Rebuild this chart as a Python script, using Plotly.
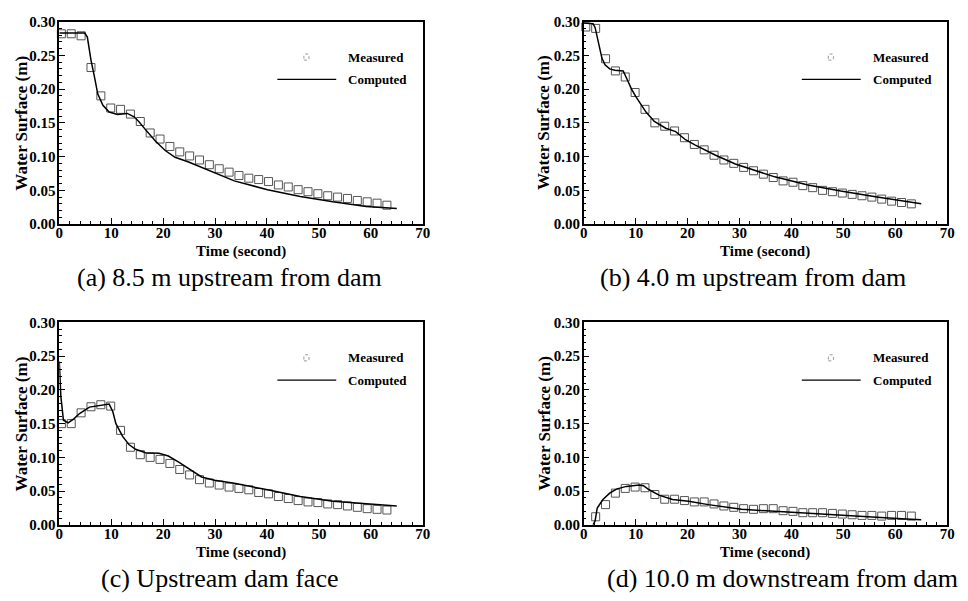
import plotly.graph_objects as go

# ---------------- data ----------------
# measurement sampling times (s), shared by the four gauges
MEAS_T = [0.4, 2.3, 4.2, 6.1, 8.0, 9.9, 11.8, 13.7, 15.6, 17.5, 19.4, 21.3,
          23.2, 25.1, 27.0, 28.9, 30.8, 32.7, 34.6, 36.5, 38.4, 40.3, 42.2,
          44.1, 46.0, 47.9, 49.8, 51.7, 53.6, 55.5, 57.4, 59.3, 61.2, 63.1]

# (a) 8.5 m upstream from dam
A_MEAS = [0.282, 0.282, 0.279, 0.232, 0.190, 0.172, 0.170, 0.163, 0.152, 0.135,
          0.126, 0.115, 0.107, 0.101, 0.095, 0.088, 0.082, 0.077, 0.072, 0.068,
          0.066, 0.063, 0.058, 0.055, 0.051, 0.048, 0.045, 0.042, 0.040, 0.038,
          0.035, 0.033, 0.031, 0.028]
A_COMP_T = [0, 4.9, 5.4, 6.1, 6.8, 7.4, 8.4, 9.6, 11.2, 12.4, 13.1, 14.4, 15.3,
            16.6, 18.5, 20.4, 22.3, 24.9, 28.7, 33.7, 40.1, 46.4, 52.7, 59.1, 65.0]
A_COMP = [0.283, 0.283, 0.277, 0.243, 0.217, 0.193, 0.176, 0.166, 0.1625, 0.163,
          0.164, 0.159, 0.152, 0.140, 0.123, 0.109, 0.099, 0.092, 0.080, 0.064,
          0.051, 0.041, 0.033, 0.026, 0.023]

# (b) 4.0 m upstream from dam
B_MEAS = [0.292, 0.290, 0.245, 0.227, 0.218, 0.195, 0.170, 0.150, 0.145, 0.138,
          0.128, 0.118, 0.110, 0.102, 0.095, 0.090, 0.084, 0.079, 0.074, 0.069,
          0.064, 0.062, 0.057, 0.054, 0.050, 0.048, 0.046, 0.044, 0.042, 0.040,
          0.037, 0.034, 0.032, 0.030]
B_COMP_T = [0, 1.8, 2.2, 2.8, 3.1, 3.5, 4.1, 5.0, 6.0, 7.6, 8.5, 9.2, 10.1, 11.0,
            12.0, 13.6, 15.8, 17.7, 19.6, 21.5, 23.5, 25.4, 29.2, 33.0, 36.8,
            43.2, 49.5, 55.9, 62.2, 65.0]
B_COMP = [0.298, 0.297, 0.291, 0.272, 0.258, 0.246, 0.236, 0.230, 0.228, 0.227,
          0.212, 0.200, 0.188, 0.177, 0.166, 0.152, 0.142, 0.137, 0.125, 0.117,
          0.109, 0.102, 0.089, 0.080, 0.070, 0.058, 0.049, 0.041, 0.033, 0.030]

# (c) upstream dam face
C_MEAS = [0.150, 0.150, 0.166, 0.175, 0.178, 0.176, 0.140, 0.115, 0.104, 0.100,
          0.097, 0.091, 0.082, 0.074, 0.067, 0.062, 0.059, 0.056, 0.054, 0.052,
          0.048, 0.046, 0.042, 0.039, 0.036, 0.034, 0.033, 0.031, 0.030, 0.028,
          0.026, 0.024, 0.023, 0.022]
C_COMP_T = [0, 0.3, 0.8, 1.7, 2.8, 3.9, 5.8, 8.4, 9.6, 10.3, 10.9, 12.2, 13.4,
            14.7, 16.6, 19.2, 21.0, 23.0, 24.9, 27.4, 29.9, 33.7, 40.1, 46.4,
            52.7, 59.1, 65.0]
C_COMP = [0.242, 0.190, 0.155, 0.151, 0.157, 0.165, 0.1745, 0.178, 0.179, 0.168,
          0.150, 0.131, 0.119, 0.112, 0.107, 0.106, 0.102, 0.093, 0.083, 0.071,
          0.066, 0.0615, 0.052, 0.042, 0.035, 0.031, 0.028]

# (d) 10.0 m downstream from dam (no water before the wave arrives)
D_MEAS = [None, 0.012, 0.030, 0.047, 0.054, 0.056, 0.055, 0.045, 0.038, 0.038,
          0.036, 0.034, 0.034, 0.031, 0.028, 0.026, 0.024, 0.023, 0.024, 0.024,
          0.021, 0.020, 0.018, 0.018, 0.018, 0.017, 0.016, 0.015, 0.014, 0.014,
          0.013, 0.014, 0.014, 0.013]
D_COMP_T = [1.8, 2.2, 2.6, 3.7, 5.0, 6.3, 8.2, 10.7, 11.5, 12.6, 14.5, 17.1,
            20.2, 24.0, 30.4, 36.7, 43.0, 49.4, 55.7, 62.1, 65.0]
D_COMP = [0.0, 0.006, 0.025, 0.0375, 0.047, 0.053, 0.057, 0.059, 0.058, 0.052,
          0.044, 0.0375, 0.035, 0.030, 0.023, 0.020, 0.017, 0.0144, 0.011,
          0.0087, 0.0077]

CAPTIONS = ["(a) 8.5 m upstream from dam", "(b) 4.0 m upstream from dam",
            "(c) Upstream dam face", "(d) 10.0 m downstream from dam"]
X_TICKS = [0, 10, 20, 30, 40, 50, 60, 70]
Y_TICKS = [0.00, 0.05, 0.10, 0.15, 0.20, 0.25, 0.30]

# ---------------- layout geometry (pixels) ----------------
W, H = 968, 601
# plot frames: (left, right, top, bottom)
FRAMES = [(56, 424, 14, 222), (587, 955, 14, 222),
          (56, 424, 323, 531), (587, 955, 323, 531)]
YTITLE_X = [18, 547, 18, 547]
CAPTION_X = [228, 758, 218, 788]

SERIF = "Liberation Serif"

panels = [(A_MEAS, A_COMP_T, A_COMP), (B_MEAS, B_COMP_T, B_COMP),
          (C_MEAS, C_COMP_T, C_COMP), (D_MEAS, D_COMP_T, D_COMP)]

fig = go.Figure()
annotations = []
shapes = []

for i, (meas, ct, comp) in enumerate(panels):
    n = "" if i == 0 else str(i + 1)
    xa, ya = "x" + n, "y" + n
    l, r, t, b = FRAMES[i]

    fig.add_trace(go.Scatter(
        x=MEAS_T, y=meas, mode="markers", xaxis=xa, yaxis=ya,
        marker=dict(symbol="square-open", size=8, color="#555555",
                    line=dict(width=1, color="#555555")),
        showlegend=False, cliponaxis=False))
    fig.add_trace(go.Scatter(
        x=ct, y=comp, mode="lines", xaxis=xa, yaxis=ya,
        line=dict(color="black", width=1.5), showlegend=False))

    axis_common = dict(
        showline=True, mirror=True, linecolor="black", linewidth=1.5,
        ticks="inside", ticklen=6, tickwidth=1.2, tickcolor="black",
        showgrid=False, zeroline=False,
        tickfont=dict(family=SERIF, size=15, color="black", weight="bold"),
    )
    fig.update_layout(**{
        "xaxis" + n: dict(
            axis_common, domain=[l / W, r / W], anchor=ya,
            range=[0, 70], tickvals=X_TICKS, ticklabelstandoff=-6,
            minor=dict(ticks="inside", ticklen=3, dtick=2, tickcolor="black",
                       tickwidth=1, showgrid=False)),
        "yaxis" + n: dict(
            axis_common, domain=[(H - b) / H, (H - t) / H], anchor=xa,
            range=[0, 0.30], tickvals=Y_TICKS, tickformat=".2f",
            ticklabelstandoff=-1,
            minor=dict(ticks="inside", ticklen=3, dtick=0.01,
                       tickcolor="black", tickwidth=1, showgrid=False)),
    })

    # axis titles
    annotations.append(dict(
        text="Water Surface (m)", textangle=-90, xref="paper", yref="paper",
        x=YTITLE_X[i] / W, y=(H - (t + b) / 2) / H, xanchor="center",
        yanchor="middle", showarrow=False,
        font=dict(family=SERIF, size=17, color="black", weight="bold")))
    annotations.append(dict(
        text="Time (second)", xref="paper", yref="paper",
        x=((l + r) / 2) / W, y=(H - (b + 28)) / H, xanchor="center",
        yanchor="middle", showarrow=False,
        font=dict(family=SERIF, size=15, color="black", weight="bold")))
    # caption below the panel
    annotations.append(dict(
        text=CAPTIONS[i], xref="paper", yref="paper",
        x=CAPTION_X[i] / W, y=(H - (b + 55)) / H, xanchor="center",
        yanchor="middle", showarrow=False,
        font=dict(family=SERIF, size=26, color="black")))

    # in-panel key
    xd, yd = xa + " domain", ya + " domain"
    annotations.append(dict(
        text="Measured", xref=xd, yref=yd, x=0.79, y=0.825, xanchor="left",
        yanchor="middle", showarrow=False,
        font=dict(family=SERIF, size=13, color="black", weight="bold")))
    annotations.append(dict(
        text="Computed", xref=xd, yref=yd, x=0.79, y=0.715, xanchor="left",
        yanchor="middle", showarrow=False,
        font=dict(family=SERIF, size=13, color="black", weight="bold")))
    shapes.append(dict(
        type="rect", xref=xd, yref=yd, x0=0.673, x1=0.687, y0=0.81, y1=0.84,
        line=dict(color="#999999", width=1, dash="dot")))
    shapes.append(dict(
        type="line", xref=xd, yref=yd, x0=0.600, x1=0.762, y0=0.715, y1=0.715,
        line=dict(color="black", width=1.3)))

fig.update_layout(
    width=W, height=H, autosize=False,
    margin=dict(l=0, r=0, t=0, b=0),
    paper_bgcolor="white", plot_bgcolor="white",
    annotations=annotations, shapes=shapes,
    showlegend=False,
)

fig.write_html("out.html")
